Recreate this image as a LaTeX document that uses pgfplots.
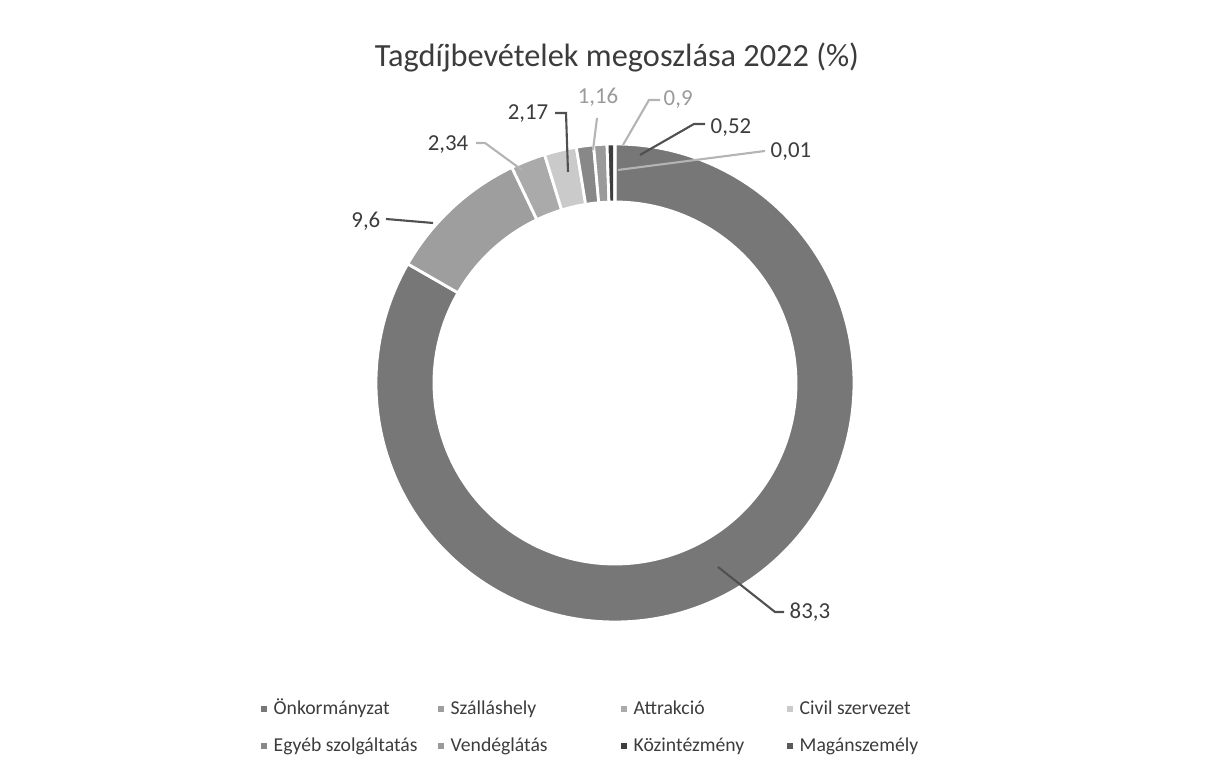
\documentclass[border=0pt]{standalone}
\usepackage{pgfplots}
\usepackage{pgfplotstable}
\pgfplotsset{compat=1.18}
\usepackage{fontspec}
\setmainfont{Carlito}
\definecolor{c0}{HTML}{777777}
\definecolor{c1}{HTML}{9E9E9E}
\definecolor{c2}{HTML}{AAAAAA}
\definecolor{c3}{HTML}{CACACA}
\definecolor{c4}{HTML}{888888}
\definecolor{c5}{HTML}{9A9A9A}
\definecolor{c6}{HTML}{3E3E3E}
\definecolor{c7}{HTML}{5A5A5A}
\definecolor{txt}{HTML}{3C3C3C}
\definecolor{lgt}{HTML}{9A9A9A}
\definecolor{lnd}{HTML}{505050}
\definecolor{lnl}{HTML}{B4B4B4}

\pgfplotstableread[col sep=comma]{
name,value
Önkormányzat,83.3
Szálláshely,9.6
Attrakció,2.34
Civil szervezet,2.17
Egyéb szolgáltatás,1.16
Vendéglátás,0.9
Közintézmény,0.52
Magánszemély,0.01
}\data

\begin{document}
\begin{tikzpicture}
\gdef\total{0}
\foreach \i in {0,...,7}{
  \pgfplotstablegetelem{\i}{value}\of\data
  \pgfmathparse{\total+\pgfplotsretval}\xdef\total{\pgfmathresult}
}
\gdef\cum{0}
\foreach \i in {0,...,7}{
  \pgfplotstablegetelem{\i}{value}\of\data
  \pgfmathsetmacro\s{90-(\cum/\total)*360}
  \pgfmathparse{\cum+\pgfplotsretval}\xdef\cum{\pgfmathresult}
  \pgfmathsetmacro\e{90-(\cum/\total)*360}
  \expandafter\xdef\csname sa\i\endcsname{\s}
  \expandafter\xdef\csname ea\i\endcsname{\e}
}
\begin{axis}[
  width=12.06cm, height=7.74cm, scale only axis, hide axis,
  xmin=0, xmax=1206, ymin=0, ymax=774, clip=false,
]
\addplot[draw=none] coordinates {(0,0) (1206,774)};
\pgfplotsinvokeforeach{0,...,7}{
  \filldraw[fill=c#1, draw=white, line width=0.8pt]
    (axis cs:{615+239*cos(\csname sa#1\endcsname)},{391+239*sin(\csname sa#1\endcsname)})
    arc[start angle=\csname sa#1\endcsname, end angle=\csname ea#1\endcsname, radius=2.39cm]
    -- (axis cs:{615+181*cos(\csname ea#1\endcsname)},{391+181*sin(\csname ea#1\endcsname)})
    arc[start angle=\csname ea#1\endcsname, end angle=\csname sa#1\endcsname, radius=1.81cm]
    -- cycle;
}
% title
\node[font=\fontsize{9.2}{11}\selectfont, text=txt] at (axis cs:617,717) {Tagdíjbevételek megoszlása 2022 (\%)};
% leader lines
\draw[lnd, line width=0.6pt] (axis cs:718,207) -- (axis cs:775,162) -- (axis cs:784,162);
\draw[lnd, line width=0.6pt] (axis cs:386,555) -- (axis cs:433,551);
\draw[lnl, line width=0.6pt] (axis cs:476,631) -- (axis cs:485,631) -- (axis cs:522,604);
\draw[lnd, line width=0.6pt] (axis cs:555,661) -- (axis cs:566,661) -- (axis cs:568,602);
\draw[lnl, line width=0.6pt] (axis cs:597,656) -- (axis cs:593,624);
\draw[lnl, line width=0.6pt] (axis cs:660,674) -- (axis cs:649,674) -- (axis cs:623,629);
\draw[lnd, line width=0.6pt] (axis cs:705,650) -- (axis cs:694,650) -- (axis cs:640,619);
\draw[lnl, line width=0.6pt] (axis cs:765,623) -- (axis cs:618,604);
% data labels
\begin{scope}[every node/.style={font=\fontsize{6.5}{8}\selectfont, text=txt, inner sep=0pt}]
\node[anchor=west] at (axis cs:789,162) {83,3};
\node[anchor=east] at (axis cs:381,553) {9,6};
\node[anchor=east] at (axis cs:469,629) {2,34};
\node[anchor=east] at (axis cs:549,660) {2,17};
\node[anchor=south, text=lgt] at (axis cs:598,667) {1,16};
\node[anchor=west, text=lgt] at (axis cs:663,674) {0,9};
\node[anchor=west] at (axis cs:710,646) {0,52};
\node[anchor=west] at (axis cs:770,622) {0,01};
\end{scope}
% legend
\begin{scope}[every node/.style={font=\fontsize{5.6}{7}\selectfont, text=txt, anchor=base west, inner sep=0pt}]
\fill[c0] (axis cs:261,62) rectangle (axis cs:267,68);
\node at (axis cs:273,59) {Önkormányzat};
\fill[c1] (axis cs:438,62) rectangle (axis cs:444,68);
\node at (axis cs:450,59) {Szálláshely};
\fill[c2] (axis cs:621,62) rectangle (axis cs:627,68);
\node at (axis cs:633,59) {Attrakció};
\fill[c3] (axis cs:787,62) rectangle (axis cs:793,68);
\node at (axis cs:799,59) {Civil szervezet};
\fill[c4] (axis cs:261,25) rectangle (axis cs:267,31);
\node at (axis cs:273,22) {Egyéb szolgáltatás};
\fill[c5] (axis cs:438,25) rectangle (axis cs:444,31);
\node at (axis cs:450,22) {Vendéglátás};
\fill[c6] (axis cs:621,25) rectangle (axis cs:627,31);
\node at (axis cs:633,22) {Közintézmény};
\fill[c7] (axis cs:787,25) rectangle (axis cs:793,31);
\node at (axis cs:799,22) {Magánszemély};
\end{scope}
\end{axis}
\pgfresetboundingbox
\path (0,0) rectangle (12.06cm,7.74cm);
\end{tikzpicture}
\end{document}
